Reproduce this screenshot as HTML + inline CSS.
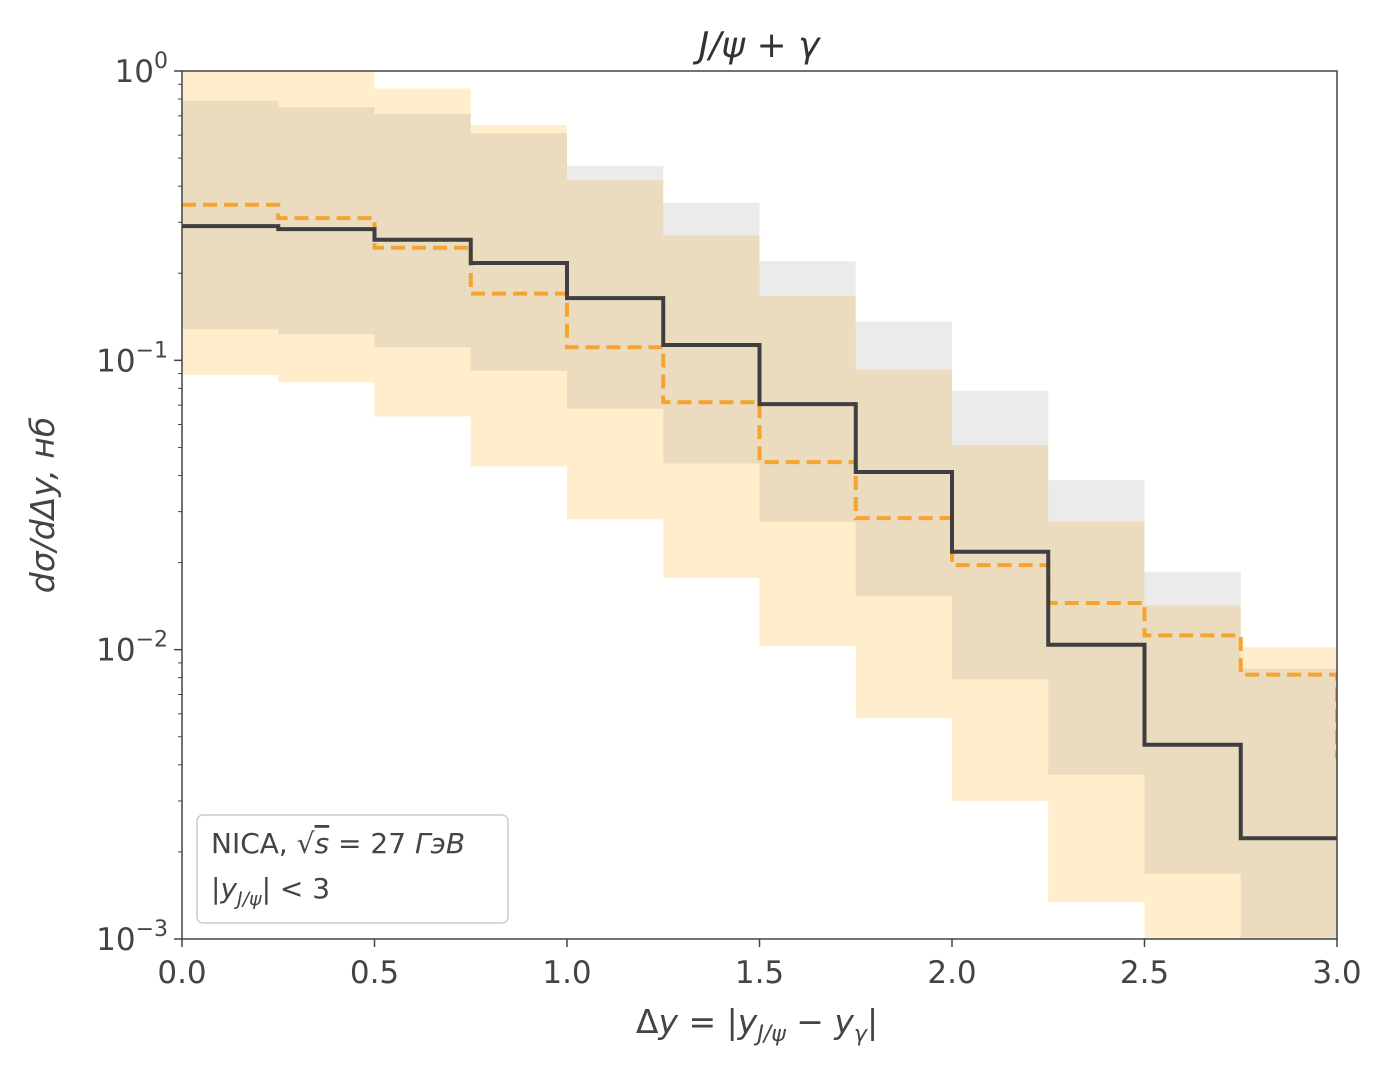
<!DOCTYPE html>
<html><head><meta charset="utf-8"><style>
body{margin:0;background:#fff}
svg{display:block;font-family:"DejaVu Sans","Liberation Sans",sans-serif}
</style></head><body>
<svg id="c" width="1389" height="1071"></svg>
<script>
const edges=[0,0.25,0.5,0.75,1,1.25,1.5,1.75,2,2.25,2.5,2.75,3];
const blackVals=[0.291,0.284,0.261,0.217,0.164,0.113,0.0706,0.0411,0.0218,0.0104,0.00469,0.00223];
const orangeVals=[0.345,0.31,0.245,0.17,0.111,0.0716,0.0445,0.0285,0.0196,0.0145,0.0112,0.0082];
const orangeEndVal=0.0042;
const grayHi=[0.79,0.75,0.71,0.61,0.47,0.35,0.22,0.136,0.0785,0.0385,0.0186,0.0086];
const grayLo=[0.128,0.123,0.111,0.092,0.068,0.044,0.0277,0.0153,0.0079,0.0037,0.00168,0.0008];
const orangeHi=[1.2,1.2,0.87,0.65,0.42,0.27,0.167,0.093,0.051,0.0277,0.0142,0.0102];
const orangeLo=[0.089,0.084,0.064,0.043,0.0282,0.0177,0.0103,0.0058,0.003,0.00134,0.00085,0.0007];
const xTicks=[0,0.5,1,1.5,2,2.5,3];
const xTickLabels=["0.0","0.5","1.0","1.5","2.0","2.5","3.0"];
const yExps=[0,-1,-2,-3];

const L=182,R=1337,T=71,B=939;
const X=v=>L+(v-0)/3*(R-L);
const Y=v=>T+(0-Math.log10(v))/3*(B-T);
const svg=document.getElementById('c');const NS='http://www.w3.org/2000/svg';
function mk(tag,attrs,parent){const e=document.createElementNS(NS,tag);for(const k in attrs)e.setAttribute(k,attrs[k]);(parent||svg).appendChild(e);return e;}
const clip=mk('clipPath',{id:'pc'});mk('rect',{x:L,y:T,width:R-L,height:B-T},clip);
const g=mk('g',{'clip-path':'url(#pc)'});
function band(hi,lo,fill,name){for(let i=0;i<hi.length;i++){const r=mk('rect',{x:X(edges[i]),y:Y(hi[i]),width:X(edges[i+1])-X(edges[i]),height:Y(lo[i])-Y(hi[i]),fill:fill},g);

}}
band(orangeHi,orangeLo,'rgba(255,165,0,0.2)','orange-uncertainty-band');
band(grayHi,grayLo,'rgba(128,128,128,0.16)','gray-uncertainty-band');
function step(vals,color,dash,name,endVal){let d='';for(let i=0;i<vals.length;i++){d+=(i?'L':'M')+X(edges[i])+','+Y(vals[i])+'L'+X(edges[i+1])+','+Y(vals[i]);}
if(endVal)d+='L'+X(edges[edges.length-1])+','+Y(endVal);
const p=mk('path',{d:d,fill:'none',stroke:color,'stroke-width':4,'stroke-dasharray':dash||'none'},g);

}
step(orangeVals,'#f5a430','14,7','orange-dashed-series',orangeEndVal);
step(blackVals,'#3f3f3f',null,'black-solid-series');
const fr=mk('rect',{x:L,y:T,width:R-L,height:B-T,fill:'none',stroke:'#444','stroke-width':1.5});

xTicks.forEach((t,i)=>{mk('line',{x1:X(t),x2:X(t),y1:B,y2:B+8,stroke:'#444','stroke-width':1.5});
const tx=mk('text',{x:X(t),y:B+44,'text-anchor':'middle','font-size':31,fill:'#444'});tx.textContent=xTickLabels[i];
});
yExps.forEach(e=>{const y=Y(Math.pow(10,e));mk('line',{x1:L-8,x2:L,y1:y,y2:y,stroke:'#444','stroke-width':1.5});
const tx=mk('text',{x:L-14,y:y+11,'text-anchor':'end','font-size':31,fill:'#444'});tx.innerHTML='10<tspan dy="-14" font-size="22">'+(e<0?'−'+(-e):e)+'</tspan>';

if(e>-3)for(let m=2;m<10;m++){const yy=Y(m*Math.pow(10,e-1));mk('line',{x1:L-4,x2:L,y1:yy,y2:yy,stroke:'#444','stroke-width':1});}});
</script>
<svg style="position:absolute;left:0;top:0" width="1389" height="1071">
<text x="759" y="57" text-anchor="middle" font-size="36" fill="#333" font-style="italic" font-family="DejaVu Sans,sans-serif">J/ψ<tspan font-style="normal"> + </tspan>γ</text>
<text x="757" y="1033" text-anchor="middle" font-size="33" fill="#444" font-family="DejaVu Sans,sans-serif">Δ<tspan font-style="italic">y</tspan> = |<tspan font-style="italic">y</tspan><tspan font-size="22" dy="8" font-style="italic">J/ψ</tspan><tspan dy="-8"> − </tspan><tspan font-style="italic">y</tspan><tspan font-size="22" dy="8" font-style="italic">γ</tspan><tspan dy="-8">|</tspan></text>
<text transform="translate(54,505) rotate(-90)" text-anchor="middle" font-size="33" fill="#444" font-style="italic" font-family="DejaVu Sans,sans-serif">dσ/dΔy, нб</text>
<rect x="197" y="815" width="311" height="108" rx="6" fill="#fff" fill-opacity="0.85" stroke="#ccc" stroke-width="1.5"/>
<text x="211" y="853" font-size="28" fill="#444" font-family="DejaVu Sans,sans-serif">NICA, √<tspan font-style="italic" text-decoration="overline">s</tspan> = 27 <tspan font-style="italic">ГэВ</tspan></text>
<text x="211" y="898" font-size="28" fill="#444" font-family="DejaVu Sans,sans-serif">|<tspan font-style="italic">y</tspan><tspan font-size="19" dy="7" font-style="italic">J/ψ</tspan><tspan dy="-7">| &lt; 3</tspan></text>
</svg>
</body></html>
